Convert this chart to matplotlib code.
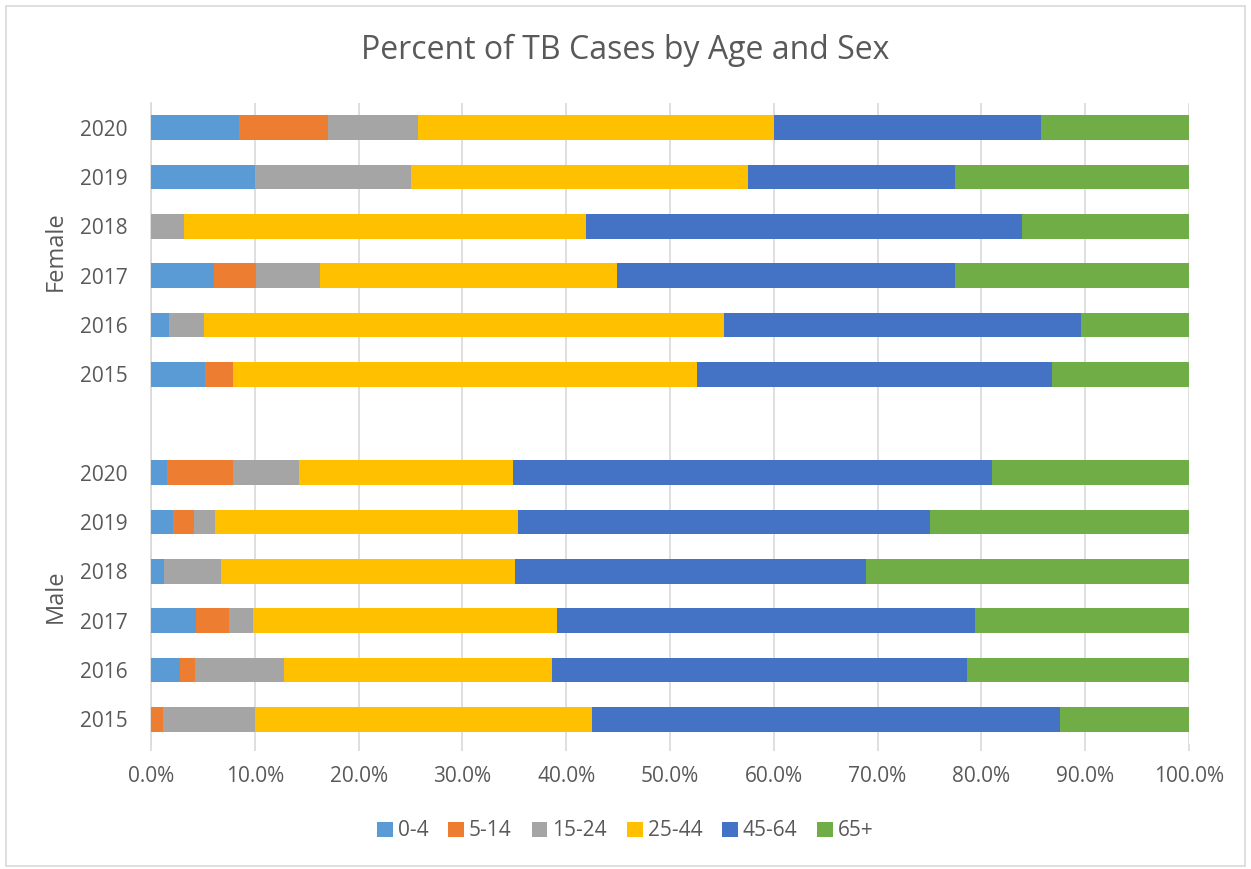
import matplotlib
matplotlib.use('Agg')
import matplotlib.pyplot as plt
import matplotlib.transforms as mtransforms
from matplotlib.patches import Rectangle, Patch
import numpy as np

# data (percent of cases)
years = ['2015', '2016', '2017', '2018', '2019', '2020']
sexes = ['Male', 'Female']
age_groups = ['0-4', '5-14', '15-24', '25-44', '45-64', '65+']
colors = ['#5B9BD5', '#ED7D31', '#A5A5A5', '#FFC000', '#4472C4', '#70AD47']

#             2015  2016  2017  2018  2019  2020
male_0_4    = [0.0, 2.8, 4.3, 1.3, 2.1, 1.5]
male_5_14   = [1.2, 1.4, 3.2, 0.0, 2.0, 6.4]
male_15_24  = [8.8, 8.6, 2.3, 5.4, 2.1, 6.4]
male_25_44  = [32.5, 25.8, 29.3, 28.4, 29.2, 20.6]
male_45_64  = [45.1, 40.0, 40.3, 33.8, 39.6, 46.1]
male_65     = [12.4, 21.4, 20.6, 31.1, 25.0, 19.0]

female_0_4   = [5.2, 1.7, 6.1, 0.0, 10.0, 8.5]
female_5_14  = [2.7, 0.0, 4.0, 0.0, 0.0, 8.6]
female_15_24 = [0.0, 3.4, 6.2, 3.2, 15.0, 8.6]
female_25_44 = [44.7, 50.1, 28.6, 38.7, 32.5, 34.3]
female_45_64 = [34.2, 34.4, 32.6, 42.0, 20.0, 25.7]
female_65    = [13.2, 10.4, 22.5, 16.1, 22.5, 14.3]

male = [male_0_4, male_5_14, male_15_24, male_25_44, male_45_64, male_65]
female = [female_0_4, female_5_14, female_15_24, female_25_44, female_45_64, female_65]

W, H = 1251, 869
fig = plt.figure(figsize=(W / 100, H / 100), dpi=100)
plt.rcParams['font.family'] = ['Open Sans', 'DejaVu Sans']
txt = '#595959'
grid = '#D9D9D9'

# chart border
fig.patches.append(Rectangle((6 / W, 3 / H), 1239 / W, 860 / H, transform=fig.transFigure,
                             fill=False, edgecolor=grid, linewidth=1.2))

ax = fig.add_axes([151 / W, 1 - 744 / H, (1189 - 151) / W, (744 - 103) / H])

# male rows at 0..5, gap at 6, female rows at 7..12
pos_male = np.arange(6)
pos_female = np.arange(6) + 7
for pos, groups in [(pos_male, male), (pos_female, female)]:
    left = np.zeros(6)
    for vals, c in zip(groups, colors):
        v = np.array(vals) / 100.0
        ax.barh(pos, v, left=left, height=0.5, color=c, linewidth=0, zorder=3)
        left += v

ax.set_xlim(0, 1)
ax.set_ylim(-0.5, 12.5)
ax.set_xticks(np.linspace(0, 1, 11))
ax.set_xticklabels(['%.1f%%' % (p * 100) for p in np.linspace(0, 1, 11)], color=txt, fontsize=15)
ax.tick_params(axis='x', length=5, width=1.2, color=grid, pad=11)
ax.grid(axis='x', color=grid, linewidth=1.2, zorder=0)
ax.set_yticks(list(pos_male) + list(pos_female))
ax.set_yticklabels(years + years, color=txt, fontsize=15)
ax.tick_params(axis='y', length=0, pad=17)
for s in ['top', 'right', 'bottom']:
    ax.spines[s].set_visible(False)
ax.spines['left'].set_color(grid)
ax.spines['left'].set_linewidth(1.2)

# sex group labels
trans = mtransforms.blended_transform_factory(fig.transFigure, ax.transData)
ax.text(56 / W, 2.5, 'Male', transform=trans, rotation=90, ha='center', va='center',
        color=txt, fontsize=17)
ax.text(56 / W, 9.5, 'Female', transform=trans, rotation=90, ha='center', va='center',
        color=txt, fontsize=17)

fig.text(0.5, 1 - 50 / H, 'Percent of TB Cases by Age and Sex', ha='center', va='center',
         color=txt, fontsize=23)

handles = [Patch(facecolor=c, label=a) for a, c in zip(age_groups, colors)]
fig.legend(handles=handles, loc='center', bbox_to_anchor=(0.5, 38 / H), ncol=6, frameon=False,
           fontsize=15, labelcolor=txt, handlelength=0.75, handleheight=0.75,
           handletextpad=0.25, columnspacing=0.95)

fig.savefig('out.png', dpi=100)
